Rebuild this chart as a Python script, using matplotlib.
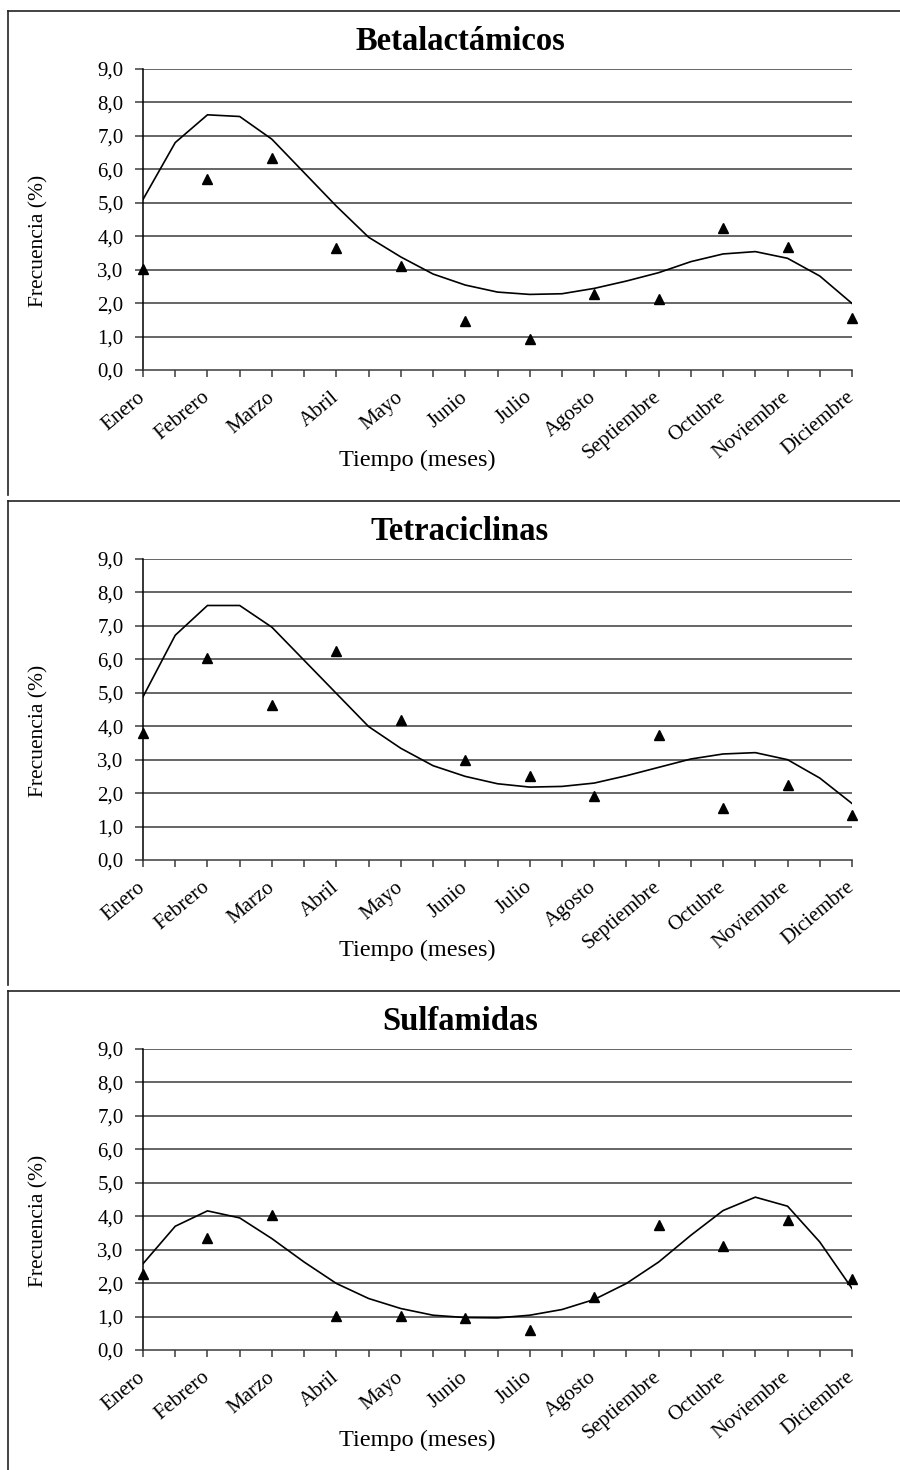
import numpy as np
import matplotlib
matplotlib.use("Agg")
import matplotlib.pyplot as plt
from matplotlib.lines import Line2D
from matplotlib.ticker import FixedLocator

plt.rcParams['font.family'] = ['Liberation Serif', 'DejaVu Serif']

months = ["Enero", "Febrero", "Marzo", "Abril", "Mayo", "Junio", "Julio",
          "Agosto", "Septiembre", "Octubre", "Noviembre", "Diciembre"]

titles = ["Betalactámicos", "Tetraciclinas", "Sulfamidas"]

# observed monthly frequencies (triangles)
beta_obs = [3.03, 5.72, 6.33, 3.66, 3.12, 1.47, 0.93, 2.27, 2.12, 4.25, 3.67, 1.56]
tetra_obs = [3.79, 6.04, 4.63, 6.24, 4.19, 3.00, 2.52, 1.92, 3.75, 1.56, 2.23, 1.34]
sulfa_obs = [2.27, 3.35, 4.03, 1.02, 1.02, 0.96, 0.60, 1.57, 3.75, 3.10, 3.90, 2.12]

# trend line vertices, read every half month (Enero ... Diciembre)
beta_trend = [5.10, 6.80, 7.63, 7.58, 6.90, 5.90, 4.90, 3.97, 3.38, 2.87, 2.54, 2.33,
              2.26, 2.28, 2.44, 2.66, 2.91, 3.24, 3.47, 3.54, 3.34, 2.81, 1.99]
tetra_trend = [4.88, 6.72, 7.61, 7.61, 6.96, 5.97, 4.98, 3.99, 3.34, 2.82, 2.50, 2.28,
               2.18, 2.20, 2.30, 2.52, 2.77, 3.02, 3.17, 3.21, 3.00, 2.45, 1.69]
sulfa_trend = [2.58, 3.70, 4.16, 3.95, 3.33, 2.63, 1.99, 1.54, 1.24, 1.04, 0.97, 0.96,
               1.04, 1.21, 1.51, 1.99, 2.63, 3.43, 4.17, 4.57, 4.30, 3.23, 1.84]

y_ticks = [0, 1, 2, 3, 4, 5, 6, 7, 8, 9]
y_ticklabels = ["0,0", "1,0", "2,0", "3,0", "4,0", "5,0", "6,0", "7,0", "8,0", "9,0"]
xlabel = "Tiempo (meses)"
ylabel = "Frecuencia (%)"

obs_all = [beta_obs, tetra_obs, sulfa_obs]
trend_all = [beta_trend, tetra_trend, sulfa_trend]

W, H = 900, 1470
fig = plt.figure(figsize=(W / 100, H / 100), dpi=100)
fig.patch.set_facecolor('white')

def fx(px):
    return px / W

def fy(py):
    return 1 - py / H

panel_step = 490
grid_col = '#3c3c3c'

for k in range(3):
    off = panel_step * k
    top, bottom = 69 + off, 370 + off
    left, right = 143, 852
    ax = fig.add_axes([fx(left), fy(bottom), fx(right) - fx(left), (bottom - top) / H])

    obs = obs_all[k]
    trend = trend_all[k]
    xm = np.arange(len(obs))
    xt = np.arange(len(trend)) / 2.0

    ax.set_xlim(0, len(obs) - 1)
    ax.set_ylim(0, 9)

    for yv in y_ticks[1:]:
        ax.axhline(yv, color=grid_col, lw=1.1, zorder=1)

    ax.plot(xt, trend, color='black', lw=1.2, zorder=3, solid_joinstyle='miter')
    ax.plot(xm, obs, linestyle='none', marker='^', color='black', ms=7.5,
            zorder=4, clip_on=False)

    for s in ['top', 'right']:
        ax.spines[s].set_visible(False)
    ax.spines['left'].set_color('black')
    ax.spines['left'].set_linewidth(1.1)
    ax.spines['bottom'].set_color(grid_col)
    ax.spines['bottom'].set_linewidth(1.1)
    ax.spines['left'].set_zorder(2)

    ax.set_yticks(y_ticks)
    ax.set_yticklabels(y_ticklabels, fontsize=15)
    ax.xaxis.set_major_locator(FixedLocator(np.arange(0, len(obs) - 0.99, 0.5)))
    labels = []
    for i in range(2 * len(obs) - 1):
        labels.append(months[i // 2] if i % 2 == 0 else "")
    ax.set_xticklabels(labels, fontsize=15, rotation=40, ha='right',
                       va='center', rotation_mode='anchor')
    ax.tick_params(axis='x', direction='out', length=5, width=1.1, color=grid_col, pad=13)
    ax.tick_params(axis='y', direction='out', length=6, width=1.1, color=grid_col, pad=8)

    fig.text(fx(460), fy(50 + off), titles[k], fontsize=23.5, fontweight='bold',
             ha='center', va='baseline')
    fig.text(fx(417), fy(466 + off), xlabel, fontsize=17.5, ha='center', va='baseline')
    fig.text(fx(43), fy(241 + off), ylabel, fontsize=15.5, rotation=90,
             ha='center', va='baseline', rotation_mode='anchor')

    # panel frame (top and left edges)
    y_end = 495 + off if k < 2 else H
    fig.add_artist(Line2D([fx(7.5), fx(W)], [fy(11 + off), fy(11 + off)],
                          color='#222222', lw=1.2, transform=fig.transFigure))
    fig.add_artist(Line2D([fx(7.5), fx(7.5)], [fy(11 + off), fy(y_end)],
                          color='#222222', lw=1.2, transform=fig.transFigure))

fig.savefig("out.png", dpi=100, facecolor='white')
